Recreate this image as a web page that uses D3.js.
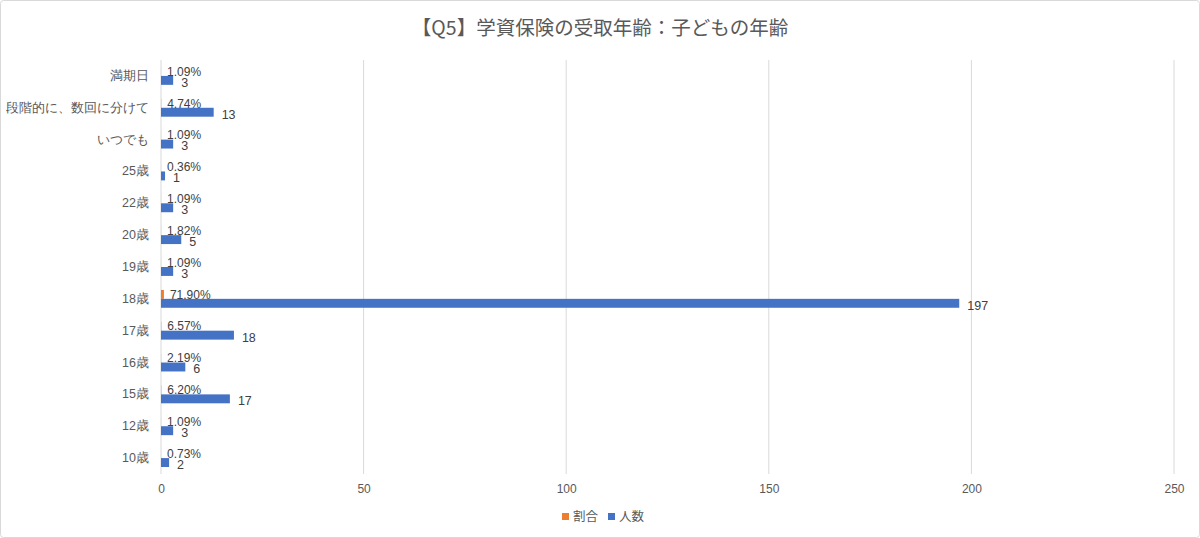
<!DOCTYPE html>
<html>
<head>
<meta charset="utf-8">
<script src="https://cdn.jsdelivr.net/npm/d3@7"></script>
<style>
  html, body { margin: 0; padding: 0; background: #fff; }
  svg { display: block; font-family: "Noto Sans CJK JP", "Noto Sans", sans-serif; }
</style>
</head>
<body>
<svg id="chart" width="1200" height="538"></svg>
<script>
// Categories listed bottom to top (as the axis reads upward)
const categories = ["10歳", "12歳", "15歳", "16歳", "17歳", "18歳", "19歳", "20歳", "22歳", "25歳", "いつでも", "段階的に、数回に分けて", "満期日"];
// Share of respondents (fraction) and respondent counts
const ratioValues = [0.0073, 0.0109, 0.0620, 0.0219, 0.0657, 0.7190, 0.0109, 0.0182, 0.0109, 0.0036, 0.0109, 0.0474, 0.0109];
const countValues = [2, 3, 17, 6, 18, 197, 3, 5, 3, 1, 3, 13, 3];
const xTicks = [0, 50, 100, 150, 200, 250];
const seriesNames = ["割合", "人数"];
const colors = { "割合": "#ED7D31", "人数": "#4472C4" };

const svg = d3.select("#chart");
const W = 1200, H = 538;

// Outer chart frame
svg.append("rect")
  .attr("x", 0.5).attr("y", 0.5).attr("width", W - 1).attr("height", H - 1)
  .attr("rx", 3).attr("fill", "#fff").attr("stroke", "#d9d9d9");

// Title
svg.append("text")
  .attr("x", 600).attr("y", 35)
  .attr("text-anchor", "middle")
  .attr("fill", "#595959").attr("font-size", 19.5)
  .text("【Q5】学資保険の受取年齢：子どもの年齢");

const plot = { left: 161, right: 1174, top: 60, bottom: 474 };

const x = d3.scaleLinear().domain([0, 250]).range([plot.left, plot.right]);
const y = d3.scaleBand().domain(categories.slice().reverse())
  .range([plot.top, plot.bottom]).paddingInner(0.44).paddingOuter(0.22);
const sub = d3.scaleBand().domain(seriesNames).range([0, y.bandwidth()]);

// Vertical gridlines
svg.append("g").selectAll("line")
  .data(xTicks.filter(t => t !== 0))
  .join("line")
  .attr("x1", d => x(d)).attr("x2", d => x(d))
  .attr("y1", plot.top).attr("y2", plot.bottom)
  .attr("stroke", "#d9d9d9").attr("stroke-width", 1);

// X axis tick labels
const xAxis = d3.axisBottom(x).tickValues(xTicks).tickSize(0).tickPadding(10);
const gx = svg.append("g").attr("transform", `translate(0,${plot.bottom})`).call(xAxis);
gx.select(".domain").remove();
gx.selectAll("text").attr("fill", "#595959").attr("font-size", 12)
  .attr("font-family", "Liberation Sans, Arial, sans-serif");

// Y axis (category labels)
const yAxis = d3.axisLeft(y).tickSize(0).tickPadding(12);
const gy = svg.append("g").attr("transform", `translate(${plot.left},0)`).call(yAxis);
gy.select(".domain").attr("stroke", "#d9d9d9").attr("d", `M0,${plot.top}V${plot.bottom}`);
gy.selectAll("text").attr("fill", "#595959").attr("font-size", 12.5);

const rows = categories.map((c, i) => ({ cat: c, ratio: ratioValues[i], count: countValues[i] }));

// Ratio bars (drawn on the same axis, so they stay very thin)
svg.append("g").selectAll("rect")
  .data(rows).join("rect")
  .attr("x", x(0))
  .attr("y", d => y(d.cat) + sub("割合"))
  .attr("width", d => x(d.ratio) - x(0))
  .attr("height", sub.bandwidth())
  .attr("fill", colors["割合"]);

// Count bars
svg.append("g").selectAll("rect")
  .data(rows).join("rect")
  .attr("x", x(0))
  .attr("y", d => y(d.cat) + sub("人数"))
  .attr("width", d => x(d.count) - x(0))
  .attr("height", sub.bandwidth())
  .attr("fill", colors["人数"]);

// Ratio labels
svg.append("g").selectAll("text")
  .data(rows).join("text")
  .attr("x", d => x(d.ratio) + 6)
  .attr("y", d => y(d.cat) + sub("割合") + sub.bandwidth() / 2)
  .attr("dy", "0.35em")
  .attr("fill", "#404040").attr("font-size", 12)
  .attr("font-family", "Liberation Sans, Arial, sans-serif")
  .text(d => (d.ratio * 100).toFixed(2) + "%");

// Count labels
svg.append("g").selectAll("text")
  .data(rows).join("text")
  .attr("x", d => x(d.count) + 8)
  .attr("y", d => y(d.cat) + sub("人数") + sub.bandwidth() / 2 + 2)
  .attr("dy", "0.35em")
  .attr("fill", "#404040").attr("font-size", 12.5)
  .attr("font-family", "Liberation Sans, Arial, sans-serif")
  .text(d => d.count);

// Legend
const legend = svg.append("g").attr("transform", "translate(562,517)");
const items = [{ name: "割合", dx: 0 }, { name: "人数", dx: 46 }];
items.forEach(it => {
  const g = legend.append("g").attr("transform", `translate(${it.dx},0)`);
  g.append("rect").attr("x", 0).attr("y", -4).attr("width", 7).attr("height", 7)
    .attr("fill", colors[it.name]);
  g.append("text").attr("x", 11).attr("y", 0).attr("dy", "0.35em")
    .attr("fill", "#595959").attr("font-size", 12.5).text(it.name);
});
</script>
</body>
</html>
